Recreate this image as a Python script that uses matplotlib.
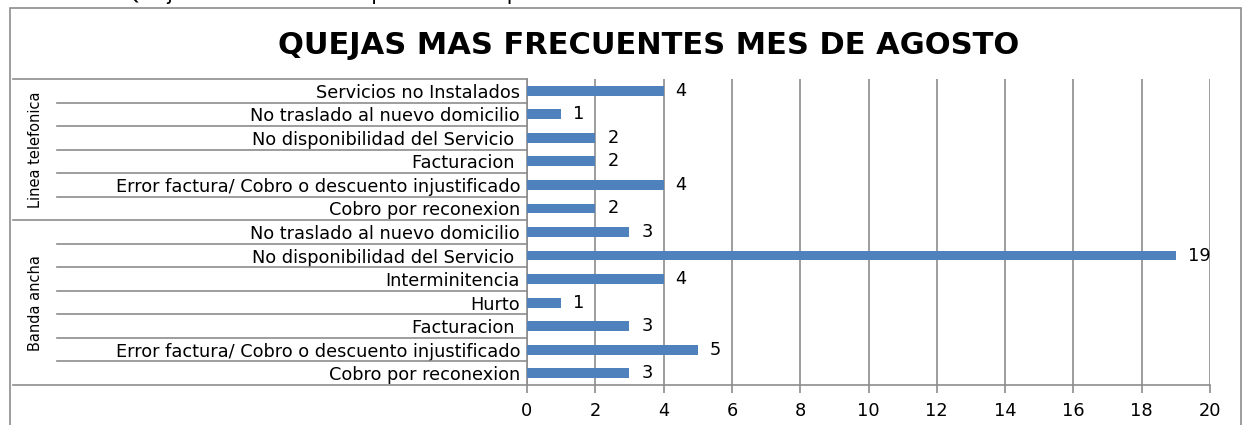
import matplotlib

matplotlib.use("Agg")
import matplotlib.pyplot as plt
from matplotlib.lines import Line2D
from matplotlib.patches import Rectangle
from matplotlib.transforms import blended_transform_factory

# --- Data (top to bottom as drawn) ------------------------------------------
linea_labels = [
    "Servicios no Instalados",
    "No traslado al nuevo domicilio",
    "No disponibilidad del Servicio ",
    "Facturacion ",
    "Error factura/ Cobro o descuento injustificado",
    "Cobro por reconexion",
]
linea_values = [4, 1, 2, 2, 4, 2]

banda_labels = [
    "No traslado al nuevo domicilio",
    "No disponibilidad del Servicio ",
    "Interminitencia",
    "Hurto",
    "Facturacion ",
    "Error factura/ Cobro o descuento injustificado",
    "Cobro por reconexion",
]
banda_values = [3, 19, 4, 1, 3, 5, 3]

groups = ["Linea telefonica", "Banda ancha"]
x_ticks = list(range(0, 21, 2))

BAR = "#4f81bd"
GRID = "#8c8c8c"
FONT = "DejaVu Sans"
FS = 12.8

labels = linea_labels + banda_labels
values = linea_values + banda_values
n = len(labels)
ypos = list(range(n - 1, -1, -1))  # first item on top

fig = plt.figure(figsize=(12.46, 4.25), dpi=100)
ax = fig.add_axes([527 / 1246, 1 - 385 / 425, 683 / 1246, 306 / 425])

ax.barh(ypos, values, height=0.42, color=BAR, zorder=3)
for y, v in zip(ypos, values):
    ax.text(v + 0.35, y, str(v), va="center", ha="left", fontsize=FS, family=FONT)

ax.set_xlim(0, 20)
ax.set_ylim(-0.5, n - 0.5)
ax.set_xticks(x_ticks)
ax.set_yticks(ypos)
ax.set_yticklabels(labels, fontsize=FS, family=FONT)
for t in ax.get_xticklabels():
    t.set_family(FONT)
    t.set_fontsize(FS)
ax.tick_params(axis="y", length=0, pad=5)
ax.tick_params(axis="x", length=6, color=GRID, width=1.2, pad=6)
ax.grid(axis="x", color=GRID, lw=1.2, zorder=0)
for s in ("top", "right"):
    ax.spines[s].set_visible(False)
for s in ("left", "bottom"):
    ax.spines[s].set_color(GRID)
    ax.spines[s].set_linewidth(1.2)

# table-like category lines on the left
tr = blended_transform_factory(fig.transFigure, ax.transData)
x_axis = 527 / 1246
x_inner = 57 / 1246
x_outer = 13 / 1246
n_linea = len(linea_labels)
for k in range(n + 1):
    yb = n - 0.5 - k
    full = k in (0, n_linea, n)
    x0 = x_outer if full else x_inner
    fig.add_artist(Line2D([x0, x_axis], [yb, yb], transform=tr, color=GRID, lw=1.2))

# group labels
mid_linea = n - 0.5 - n_linea / 2
mid_banda = (n - n_linea) / 2 - 0.5
for g, ym in zip(groups, [mid_linea, mid_banda]):
    fig.text(35 / 1246, ym, g, transform=tr, rotation=90, ha="center", va="center",
             fontsize=10.5, family="Liberation Sans Narrow")

# outer chart frame
fig.add_artist(Rectangle((10 / 1246, -0.05), 1231 / 1246, 1.05 - 8 / 425,
                         transform=fig.transFigure, fill=False, ec=GRID, lw=1.2))

fig.text(649 / 1246, 1 - 45 / 425, "QUEJAS MAS FRECUENTES MES DE AGOSTO", ha="center", va="center",
         fontsize=22, fontweight="bold", family=FONT)

# partially visible caption above the chart (mostly cut off by the top edge)
fig.text(0.025, 1.013, "Tabla 3.  Quejas mas frecuentes presentadas por los usuarios",
         ha="left", va="center", fontsize=15, family=FONT)

fig.savefig("out.png", dpi=100, facecolor="white")
